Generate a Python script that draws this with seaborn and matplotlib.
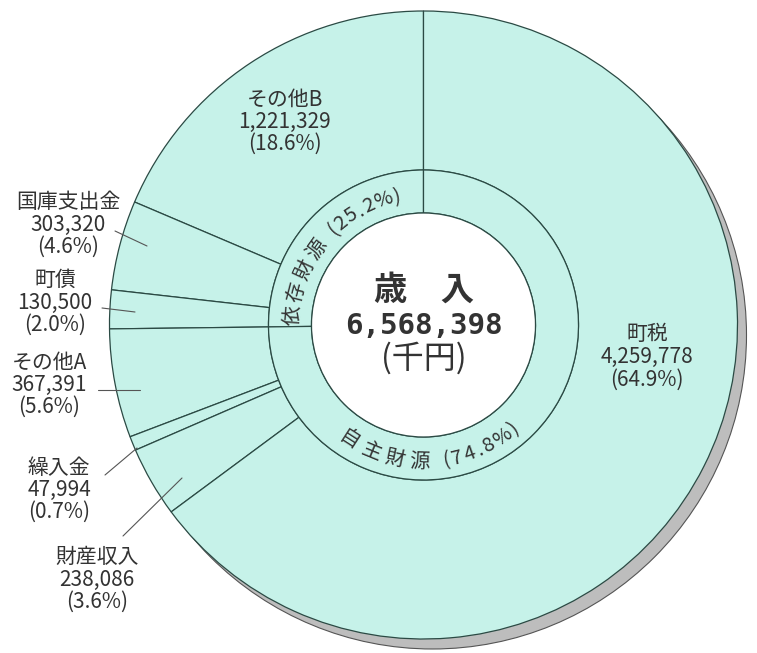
import numpy as np
import matplotlib
matplotlib.use("Agg")
import matplotlib.pyplot as plt
from matplotlib.patches import Circle
import seaborn as sns

# ---------------- data ----------------
categories = ['その他B', '国庫支出金', '町債', 'その他A', '繰入金', '財産収入', '町税']
values = [1221329, 303320, 130500, 367391, 47994, 238086, 4259778]   # 千円
dependent = ['その他B', '国庫支出金', '町債']
group_names = ['依存財源', '自主財源']
center_title = '歳\u3000入'
center_unit = '(千円)'

total = sum(values)
dep_sum = sum(v for c, v in zip(categories, values) if c in dependent)
group_values = [dep_sum, total - dep_sum]
group_pcts = [f"{v / total * 100:.1f}" for v in group_values]
pcts = [f"{v / total * 100:.1f}" for v in values]

# ---------------- style ----------------
sns.set_theme(style="white")
plt.rcParams['font.family'] = ['Noto Sans CJK JP', 'DejaVu Sans']

W, H = 757, 653
fig = plt.figure(figsize=(W / 100, H / 100), dpi=100)
ax = fig.add_axes([0, 0, 1, 1])

def Y(y):
    return H - y

fill = '#c6f2e9'
edge = '#2b4a44'
txt = '#333333'
cx, cy = 423.5, Y(325)
R_out, R_mid, R_in = 314, 155, 112

# shadow
ax.add_patch(Circle((cx + 9, cy - 10), R_out, facecolor='#bdbdbd',
                    edgecolor='#555555', lw=0.8, zorder=0))

# outer ring
ax.pie(values, radius=R_out, center=(cx, cy), startangle=90, counterclock=True,
       wedgeprops=dict(width=R_out - R_mid, facecolor=fill, edgecolor=edge, linewidth=0.9))
# middle ring
ax.pie(group_values, radius=R_mid, center=(cx, cy), startangle=90, counterclock=True,
       wedgeprops=dict(width=R_mid - R_in, facecolor=fill, edgecolor=edge, linewidth=0.9))
# center hole
ax.add_patch(Circle((cx, cy), R_in, facecolor='white', edgecolor=edge, lw=0.9, zorder=5))

ax.set_xlim(0, W)
ax.set_ylim(0, H)
ax.set_aspect('equal')
ax.axis('off')

# ---------------- center text ----------------
ax.text(cx + 1, Y(290), center_title, ha='center', va='center', fontsize=24,
        fontweight='bold', color=txt, zorder=6)
ax.text(cx, Y(326), f"{total:,}", ha='center', va='center', fontsize=21,
        fontweight='bold', family='DejaVu Sans Mono', color=txt, zorder=6)
ax.text(cx, Y(358), center_unit, ha='center', va='center', fontsize=23,
        color=txt, zorder=6)

# ---------------- curved ring text ----------------
def cw(ch):
    if ch in '0123456789':
        return 0.62
    if ch in '()':
        return 0.45
    if ch == '.':
        return 0.35
    if ch == '%':
        return 0.85
    if ch == ' ':
        return 0.4
    return 1.15

def arc_text(s, r, a0, a1, clockwise, fs):
    ws = [cw(c) for c in s]
    tot = sum(ws)
    cum = 0
    for c, w in zip(s, ws):
        f = (cum + w / 2) / tot
        th = a0 + (a1 - a0) * f
        cum += w
        if c == ' ':
            continue
        rad = np.deg2rad(th)
        x = cx + r * np.cos(rad)
        y = cy + r * np.sin(rad)
        rot = th - 90 if clockwise else th + 90
        ax.text(x, y, c, ha='center', va='center', rotation=rot,
                rotation_mode='anchor', fontsize=fs, color=txt, zorder=6)

arc_text(f"{group_names[0]} ({group_pcts[0]}%)", 131, 181, 100, True, 14.5)
arc_text(f"{group_names[1]} ({group_pcts[1]}%)", 137, 232, 313, False, 14.5)

# ---------------- outer labels ----------------
label_pos = {
    'その他B': (285, 100, 22),
    '国庫支出金': (68, 202, 22.5),
    '町債': (55, 280, 22.5),
    'その他A': (49, 363, 22),
    '繰入金': (59, 468, 22),
    '財産収入': (97, 557, 22.5),
    '町税': (647, 334, 23),
}
for c, v, p in zip(categories, values, pcts):
    x, y0, step = label_pos[c]
    for i, line in enumerate([c, f"{v:,}", f"({p}%)"]):
        ax.text(x, Y(y0 + i * step), line, ha='center', va='center',
                fontsize=15, color=txt, zorder=6)

leaders = {
    '国庫支出金': ((115, 231), (147, 246)),
    '町債': ((102, 308), (135, 312)),
    'その他A': ((98, 390), (140, 390)),
    '繰入金': ((105, 475), (137, 448)),
    '財産収入': ((123, 536), (182, 478)),
}
for c, ((x0, y0), (x1, y1)) in leaders.items():
    ax.plot([x0, x1], [Y(y0), Y(y1)], color='#555555', lw=0.8, zorder=6)

fig.savefig('out.png', dpi=100, facecolor='white')
